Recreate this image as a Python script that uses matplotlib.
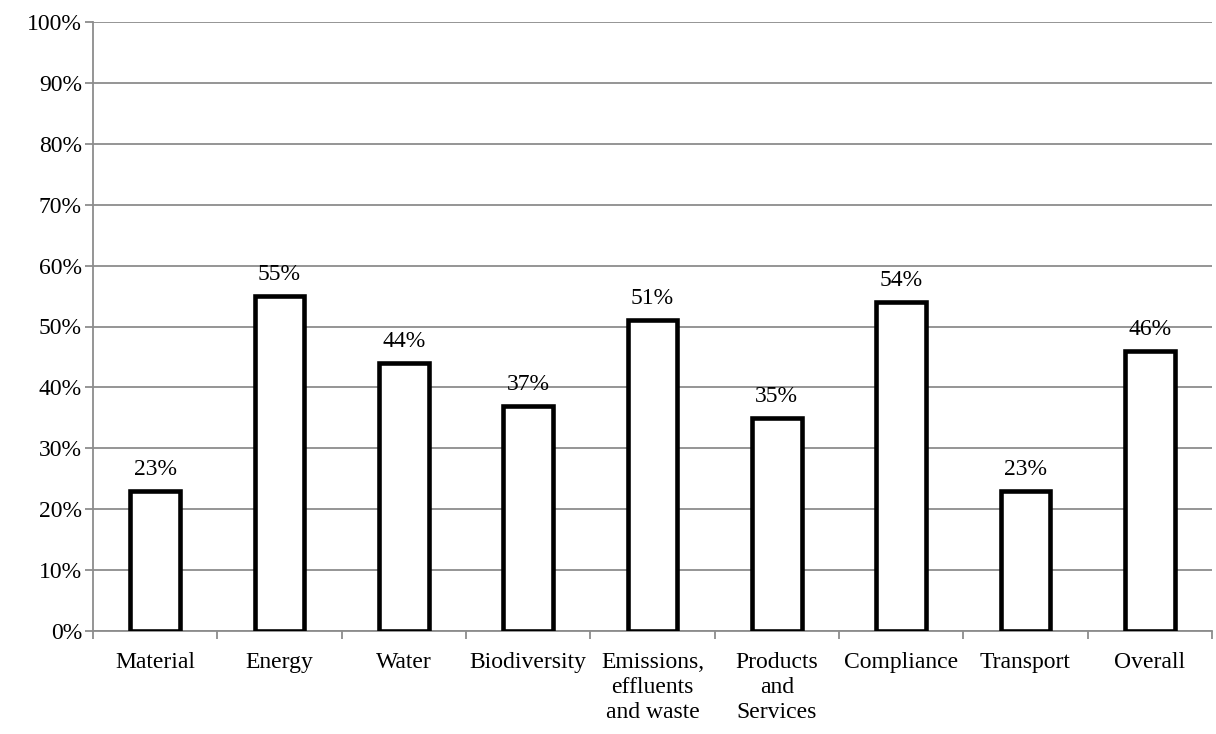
import numpy as np
import matplotlib.pyplot as plt
from matplotlib.ticker import FuncFormatter

categories = ['Material', 'Energy', 'Water', 'Biodiversity',
              'Emissions,\neffluents\nand waste', 'Products\nand\nServices',
              'Compliance', 'Transport', 'Overall']
values = [23, 55, 44, 37, 51, 35, 54, 23, 46]

plt.rcParams['font.family'] = ['Liberation Serif', 'DejaVu Serif']
fs = 17

fig = plt.figure(figsize=(12.16, 7.34), dpi=100)
ax = fig.add_axes([93 / 1216, 1 - 631 / 734, (1212 - 93) / 1216, (631 - 22) / 734])

x = np.arange(len(categories))
ax.bar(x, values, width=0.4, color='white', edgecolor='black', linewidth=3.3, zorder=3)

for xi, v in zip(x, values):
    ax.text(xi, v + 1.8, f'{v}%', ha='center', va='bottom', fontsize=fs)

ax.set_xlim(-0.5, len(categories) - 0.5)
ax.set_ylim(0, 100)
ax.set_yticks(np.arange(0, 101, 10))
ax.yaxis.set_major_formatter(FuncFormatter(lambda v, p: f'{v:.0f}%'))
ax.yaxis.grid(True, color='#8c8c8c', linewidth=1.3, zorder=0)

ax.set_xticks(x)
ax.set_xticklabels(categories, fontsize=fs, linespacing=1.25)
ax.set_xticks(np.arange(-0.5, len(categories)), minor=True)
ax.tick_params(axis='x', which='major', length=0, pad=15)
ax.tick_params(axis='x', which='minor', length=6, color='#8c8c8c', width=1.3)
ax.tick_params(axis='y', length=6, color='#8c8c8c', width=1.3, labelsize=fs, pad=2)

for s in ['top', 'right']:
    ax.spines[s].set_visible(False)
for s in ['left', 'bottom']:
    ax.spines[s].set_color('#8c8c8c')
    ax.spines[s].set_linewidth(1.3)

fig.savefig('out.png', dpi=100)
